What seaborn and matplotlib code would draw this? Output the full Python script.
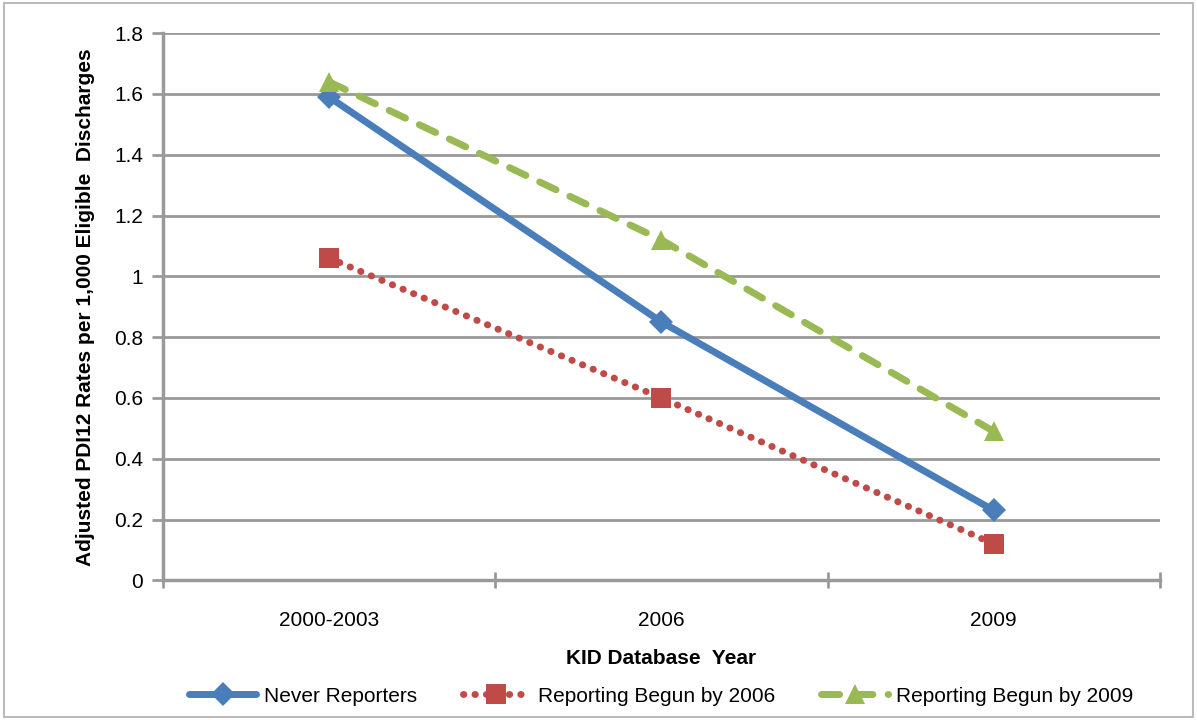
import matplotlib
matplotlib.use("Agg")
import matplotlib.pyplot as plt
import seaborn as sns
import pandas as pd
from matplotlib.patches import Rectangle

categories = ["2000-2003", "2006", "2009"]
never_reporters = [1.59, 0.85, 0.23]
begun_2006 = [1.06, 0.60, 0.12]
begun_2009 = [1.64, 1.12, 0.49]
series_names = ["Never Reporters", "Reporting Begun by 2006", "Reporting Begun by 2009"]
y_ticks = [0, 0.2, 0.4, 0.6, 0.8, 1, 1.2, 1.4, 1.6, 1.8]
y_tick_labels = ["0", "0.2", "0.4", "0.6", "0.8", "1", "1.2", "1.4", "1.6", "1.8"]

sns.set_style("white")
plt.rcParams['font.family'] = ['Liberation Sans', 'DejaVu Sans']
plt.rcParams['text.color'] = 'black'
plt.rcParams['axes.labelcolor'] = 'black'
plt.rcParams['xtick.labelcolor'] = 'black'
plt.rcParams['ytick.labelcolor'] = 'black'

fig = plt.figure(figsize=(11.97, 7.2), dpi=100)
ax = fig.add_axes([0.136, 0.194, 0.833, 0.760])

frames = []
for name, vals in zip(series_names, [never_reporters, begun_2006, begun_2009]):
    frames.append(pd.DataFrame({"idx": range(len(categories)), "value": vals, "series": name}))
df = pd.concat(frames)

colors = {"Never Reporters": "#4A7EBB", "Reporting Begun by 2006": "#BE4B48",
          "Reporting Begun by 2009": "#98B954"}
styles = {
    "Never Reporters": dict(linestyle="-", marker="D", markersize=12),
    "Reporting Begun by 2006": dict(linestyle=(0, (0.05, 1.6)), marker="s", markersize=14),
    "Reporting Begun by 2009": dict(linestyle=(0, (2.6, 2.2)), marker="^", markersize=15),
}
for name in series_names:
    sub = df[df["series"] == name]
    sns.lineplot(data=sub, x="idx", y="value", ax=ax, color=colors[name], linewidth=5,
                 dash_capstyle="round", solid_capstyle="round", label=name,
                 markeredgewidth=0, zorder=3, **styles[name])

ax.set_xlim(-0.5, 2.5)
ax.set_ylim(0, 1.8)
ax.set_yticks(y_ticks)
ax.set_yticklabels(y_tick_labels, fontsize=15)
ax.set_xticks([0, 1, 2])
ax.set_xticklabels(categories, fontsize=15)
ax.set_xticks([-0.5, 0.5, 1.5, 2.5], minor=True)
ax.tick_params(axis="x", which="major", length=0, pad=22, bottom=True)
ax.tick_params(axis="x", which="minor", length=12, width=2, color="#999999",
               direction="inout", bottom=True)
ax.tick_params(axis="y", length=8, width=2, color="#999999", direction="out", pad=6, left=True)
ax.grid(axis="y", color="#999999", linewidth=2)
ax.set_axisbelow(True)
for s in ["top", "right"]:
    ax.spines[s].set_visible(False)
for s in ["left", "bottom"]:
    ax.spines[s].set_color("#999999")
    ax.spines[s].set_linewidth(2.5)

ax.set_xlabel("KID Database  Year", fontsize=15, fontweight="bold", labelpad=14)
ax.set_ylabel("Adjusted PDI12 Rates per 1,000 Eligible  Discharges", fontsize=15,
              fontweight="bold", labelpad=14)

leg = ax.legend(loc="upper center", bbox_to_anchor=(0.5, -0.16), ncol=3, frameon=False,
                fontsize=15, handlelength=3.2, columnspacing=2.2, handletextpad=0.4)

fig.patches.append(Rectangle((0.003, 0.004), 0.994, 0.992, transform=fig.transFigure,
                             fill=False, edgecolor="#BBBBBB", linewidth=1.5))
fig.savefig("out.png", dpi=100)
